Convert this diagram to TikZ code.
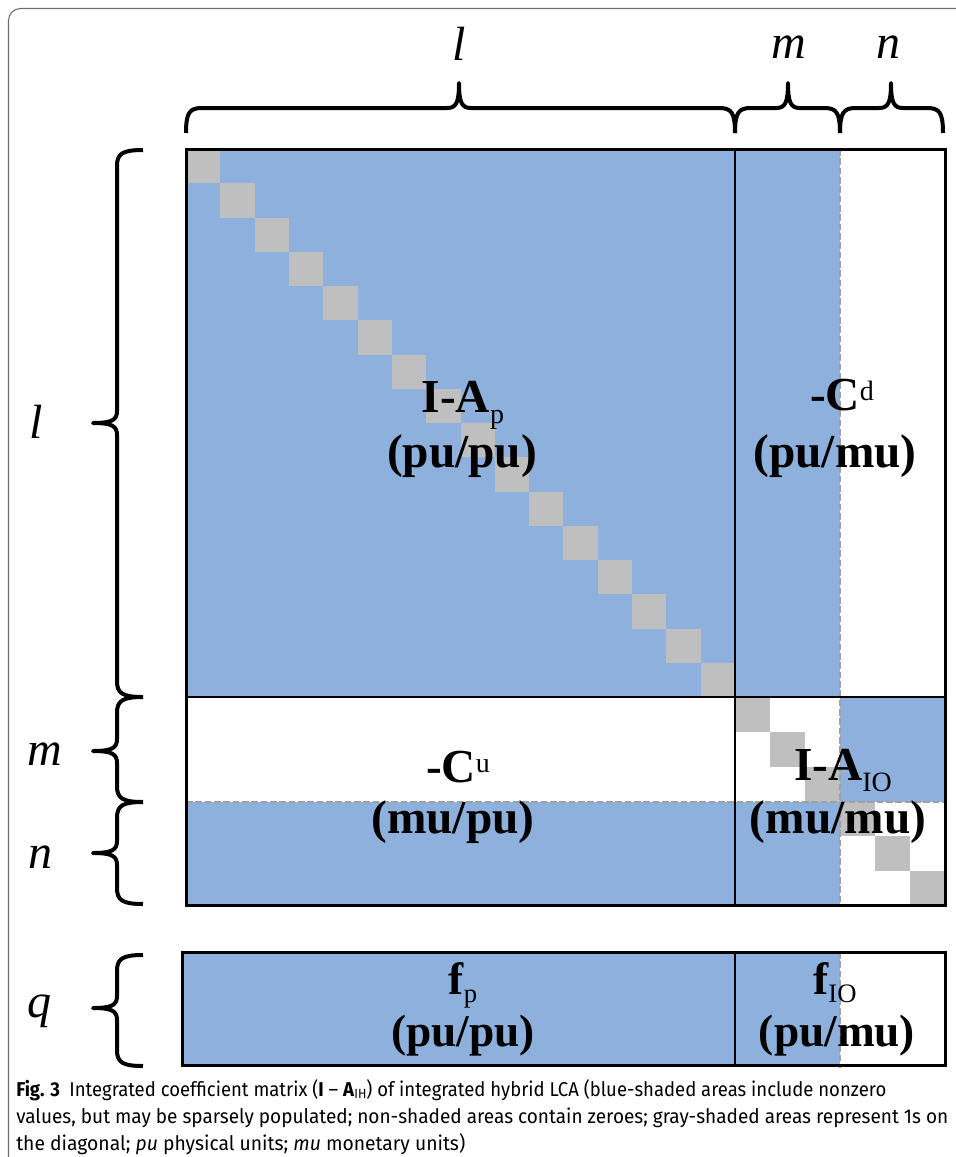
\documentclass[tikz,border=0pt]{standalone}
\usepackage{fontspec}
\usepackage{graphicx}
\setmainfont{Liberation Serif}
\newfontfamily\capfont{Fira Sans}
\definecolor{myblue}{HTML}{8EB0DC}
\definecolor{mygray}{HTML}{BFBFBF}
\definecolor{dashgray}{HTML}{A0A0A0}
\definecolor{bordergray}{HTML}{6E6E6E}
\newcommand\sbs[1]{\raisebox{-0.24em}{\fontsize{21}{24}\selectfont\mdseries #1}}
\newcommand\sbf[1]{\raisebox{-0.18em}{\fontsize{20}{24}\selectfont\mdseries #1}}
\newcommand\sps[1]{\raisebox{0.2em}{\fontsize{21}{24}\selectfont\mdseries #1}}
\newcommand\vbr[3]{\draw[brc] (143,#1) .. controls (122,#1) and (117,#1+4) .. (117,#1+16) -- (117,#2-12) .. controls (117,#2-3) and (112,#2) .. (93,#2) .. controls (112,#2) and (117,#2+3) .. (117,#2+12) -- (117,#3-16) .. controls (117,#3-4) and (122,#3) .. (143,#3);}
\newcommand\hbr[3]{\draw[brc] (#1,133) .. controls (#1,112) and (#1+4,108) .. (#1+16,108) -- (#2-12,108) .. controls (#2-3,108) and (#2,103) .. (#2,83) .. controls (#2,103) and (#2+3,108) .. (#2+12,108) -- (#3-16,108) .. controls (#3-4,108) and (#3,112) .. (#3,133);}
\begin{document}
\begin{tikzpicture}[x=0.75pt,y=-0.75pt,
  brc/.style={line width=3pt,line join=round},
  dsh/.style={draw=dashgray,line width=1.5pt,dash pattern=on 5pt off 2pt},
  lbl/.style={font=\fontsize{35.5}{40}\selectfont\bfseries,anchor=base,inner sep=0},
  flbl/.style={font=\fontsize{34}{38}\selectfont\bfseries,anchor=base,inner sep=0},
  idx/.style={font=\fontsize{36}{40}\selectfont\itshape,anchor=base,inner sep=0},
  captxt/.style={font=\capfont\fontsize{15}{18}\selectfont,anchor=base west,inner sep=0}]
\useasboundingbox (0,0) rectangle (956,1157);
\fill[white] (0,0) rectangle (956,1157);
% outer frame
\draw[bordergray,line width=0.8pt,rounded corners=9pt] (8.5,1170) -- (8.5,8.5) -- (970,8.5);
% matrix fills
\fill[myblue] (186,149) rectangle (840,697);
\fill[myblue] (840,697) rectangle (945,802);
\fill[myblue] (186,802) rectangle (840,905);
\foreach \i in {0,...,15} \fill[mygray] ({186+\i*34.3125},{149+\i*34.25}) rectangle ++(34.3125,34.25);
\foreach \i in {0,1,2} \fill[mygray] ({735+\i*35},{697+\i*35}) rectangle ++(35,35);
\foreach \i in {0,1,2} \fill[mygray] ({840+\i*35},{802+\i*34.33}) rectangle ++(35,34.33);
\draw[dsh] (840,149) -- (840,905);
\draw[dsh] (186,802) -- (945,802);
\draw[line width=1.5pt] (735,149) -- (735,905);
\draw[line width=1.5pt] (186,697) -- (945,697);
\draw[line width=2.25pt] (186,149) rectangle (945,905);
% lower box
\fill[myblue] (182,952) rectangle (840,1065);
\draw[dsh] (840,952) -- (840,1068);
\draw[line width=1.5pt] (735,952) -- (735,1065);
\draw[line width=2.25pt] (182,952) rectangle (945,1065);
% braces
\hbr{186}{459}{735}
\hbr{735}{788}{840}
\hbr{840}{891}{943}
\vbr{150}{423}{697}
\vbr{697}{751}{802}
\vbr{802}{853}{904}
\vbr{955}{1008}{1066}
% index labels
\node[idx] (tl) at (459,60) {l};
\node[idx] (tm) at (789,58) {m};
\node[idx] (tn) at (888,58) {n};
\node[idx] (ll) at (36,438) {l};
\node[idx] (lm) at (45,765) {m};
\node[idx] (ln) at (40,868) {n};
\node[idx] (lq) at (39,1017) {q};
% block labels
\node[lbl] (ap) at (463,412) {I-A\sbs{p}};
\node[lbl] (ap2) at (462,467) {(pu/pu)};
\node[lbl] (cd) at (842,410) {-C\sps{d}};
\node[lbl] (cd2) at (835,467) {(pu/mu)};
\node[lbl] (cu) at (458,782) {-C\sps{u}};
\node[lbl] (cu2) at (453,833) {(mu/pu)};
\node[lbl] (aio) at (843,780) {I-A\sbs{IO}};
\node[lbl] (aio2) at (838,833) {(mu/mu)};
\node[flbl] (fp) at (463,994) {f\sbf{p}};
\node[flbl] (fp2) at (463,1046) {(pu/pu)};
\node[flbl] (fio) at (835,994) {f\sbf{IO}};
\node[flbl] (fio2) at (837,1046) {(pu/mu)};
% caption
\node[captxt] (c1) at (16,1096) {\resizebox{652.5pt}{\height}{\textbf{Fig. 3}\enspace Integrated coefficient matrix (\textbf{I} – \textbf{A}\raisebox{-0.25ex}{\fontsize{10}{12}\selectfont IH}) of integrated hybrid LCA (blue-shaded areas include nonzero}};
\node[captxt] (c2) at (16,1123) {\resizebox{699pt}{\height}{values, but may be sparsely populated; non-shaded areas contain zeroes; gray-shaded areas represent 1s on}};
\node[captxt] (c3) at (16,1150) {\resizebox{336.75pt}{\height}{the diagonal; \textit{pu} physical units; \textit{mu} monetary units)}};
\end{tikzpicture}
\end{document}
